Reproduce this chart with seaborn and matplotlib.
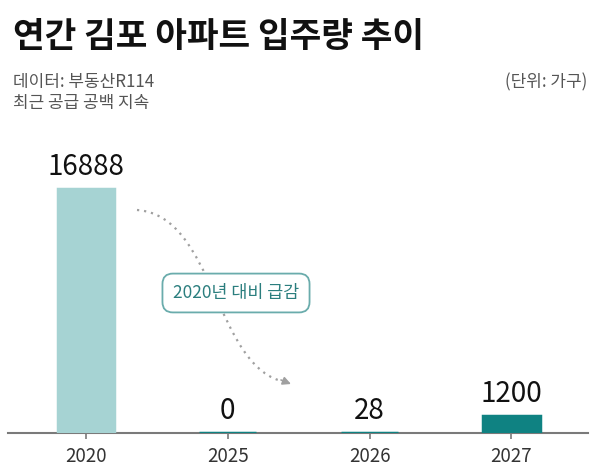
import pandas as pd
import matplotlib.pyplot as plt
import seaborn as sns
from matplotlib.path import Path
from matplotlib.patches import PathPatch

# Annual Gimpo apartment move-in volume (households)
years = ['2020', '2025', '2026', '2027']
units = [16888, 0, 28, 1200]
bar_colors = ['#a6d3d3', '#0f8282', '#0f8282', '#0f8282']

title = '연간 김포 아파트 입주량 추이'
source = '데이터: 부동산R114'
subtitle = '최근 공급 공백 지속'
unit_note = '(단위: 가구)'
callout = '2020년 대비 급감'

sns.set_theme(style='white')
plt.rcParams['font.family'] = ['Noto Sans CJK KR', 'DejaVu Sans']

W, H = 600, 475
df = pd.DataFrame({'year': years, 'units': units})

fig = plt.figure(figsize=(6, 4.75), dpi=100)
fig.patch.set_facecolor('white')
ax = fig.add_axes([8 / W, 1 - 433 / H, 580 / W, 293 / H])

sns.barplot(data=df, x='year', y='units', hue='year', palette=bar_colors,
            width=0.4, saturation=1, legend=False, ax=ax)
for p in ax.patches:
    p.set_edgecolor(p.get_facecolor())
    p.set_linewidth(2.5)
    p.set_zorder(3)

ax.set_xlim(-0.55, 3.54)
ax.set_ylim(0, 20280)
ax.set_xlabel('')
ax.set_ylabel('')
ax.set_yticks([])
for side in ['top', 'right', 'left']:
    ax.spines[side].set_visible(False)
ax.spines['bottom'].set_color('#7a7a7a')
ax.spines['bottom'].set_linewidth(1.5)
ax.tick_params(axis='x', bottom=True, length=4, width=1.2, color='#7a7a7a',
               labelsize=13.5, labelcolor='#333333', pad=5)

# value labels
for i, v in enumerate(units):
    ax.annotate(f'{v}', (i, v), xytext=(0, 10), textcoords='offset points',
                ha='center', va='baseline', fontsize=20, color='#111111')

# header texts
fig.text(13 / W, 1 - 37 / H, title, fontsize=24.8, fontweight='bold',
         va='center', ha='left', color='#111111')
fig.text(13 / W, 1 - 82 / H, source, fontsize=12.2, va='center', color='#555555')
fig.text(13 / W, 1 - 103 / H, subtitle, fontsize=12.2, va='center', color='#555555')
fig.text(587 / W, 1 - 82 / H, unit_note, fontsize=12.2, va='center', ha='right',
         color='#555555')

# dotted curved arrow from the 2020 bar toward 2026
pts = [(137, 210), (215, 215), (215, 370), (286, 382)]
verts = [(x / W, 1 - y / H) for x, y in pts]
curve = PathPatch(Path(verts, [Path.MOVETO, Path.CURVE4, Path.CURVE4, Path.CURVE4]),
                  fc='none', ec='#a0a0a0', lw=1.6, ls=(0, (1, 2.2)),
                  transform=fig.transFigure)
fig.add_artist(curve)
ax.annotate('', xy=(291 / W, 1 - 384 / H), xytext=(281 / W, 1 - 380 / H),
            xycoords='figure fraction', textcoords='figure fraction',
            arrowprops=dict(arrowstyle='-|>', color='#a0a0a0', lw=1.2,
                            mutation_scale=12, shrinkA=0, shrinkB=0))

fig.text(236 / W, 1 - 293 / H, callout, fontsize=12.5, fontweight='medium',
         ha='center', va='center', color='#2b7e7e', zorder=5,
         bbox=dict(boxstyle='round,pad=0.6,rounding_size=0.6', fc='white',
                   ec='#6aacac', lw=1.3))

fig.savefig('out.png', dpi=100)
